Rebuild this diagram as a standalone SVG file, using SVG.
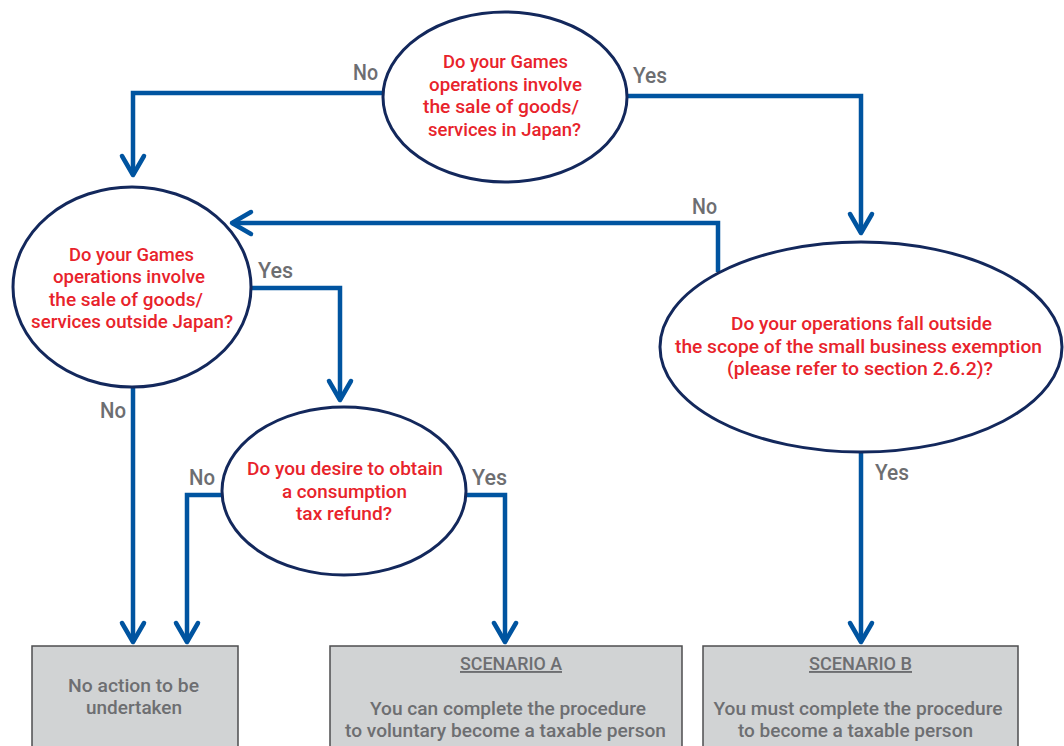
<svg xmlns="http://www.w3.org/2000/svg" width="1064" height="746" viewBox="0 0 1064 746">
<defs>
<marker id="arr" markerUnits="userSpaceOnUse" markerWidth="40" markerHeight="40" viewBox="-30 -20 40 40" refX="0" refY="0" orient="auto">
<path d="M-19,-11 L0,0 L-19,11" fill="none" stroke="#0054a0" stroke-width="4.5" stroke-linecap="round" stroke-linejoin="round"/>
</marker>
<style>
.q{fill:#fff;stroke:#13285c;stroke-width:3}
.qt{font-family:Roboto,"Liberation Sans",sans-serif;font-size:19px;font-weight:500;fill:#e8232b;text-anchor:middle}
.lb{font-family:Roboto,"Liberation Sans",sans-serif;font-size:22px;font-weight:500;fill:#6d6e71}
.bx{fill:#d1d3d4;stroke:#4d4d4f;stroke-width:1.5}
.bt{font-family:Roboto,"Liberation Sans",sans-serif;font-size:19px;font-weight:500;fill:#6d6e71;text-anchor:middle}
.c{fill:none;stroke:#0054a0;stroke-width:4.5;marker-end:url(#arr)}
</style>
</defs>
<g id="connectors">
<path class="c" d="M383,93 H133 V175"/>
<path class="c" d="M627,96 H861 V233"/>
<path class="c" d="M718,272 V223 H232"/>
<path class="c" d="M251,288 H340 V400"/>
<path class="c" d="M133,387 V642"/>
<path class="c" d="M222,495 H187 V642"/>
<path class="c" d="M466,495 H505 V642"/>
<path class="c" d="M861,452 V642"/>
<text class="lb" x="353" y="80" textLength="25" lengthAdjust="spacingAndGlyphs">No</text>
<text class="lb" x="633" y="83" textLength="34" lengthAdjust="spacingAndGlyphs">Yes</text>
<text class="lb" x="692" y="214" textLength="25" lengthAdjust="spacingAndGlyphs">No</text>
<text class="lb" x="258" y="278" textLength="35" lengthAdjust="spacingAndGlyphs">Yes</text>
<text class="lb" x="100" y="418" textLength="26" lengthAdjust="spacingAndGlyphs">No</text>
<text class="lb" x="189" y="485" textLength="26" lengthAdjust="spacingAndGlyphs">No</text>
<text class="lb" x="472" y="485" textLength="35" lengthAdjust="spacingAndGlyphs">Yes</text>
<text class="lb" x="875" y="480" textLength="34" lengthAdjust="spacingAndGlyphs">Yes</text>
</g>
<g id="q1">
<ellipse class="q" cx="505" cy="97" rx="122" ry="85"/>
<text class="qt" x="505.5" y="68" textLength="125" lengthAdjust="spacingAndGlyphs">Do your Games</text>
<text class="qt" x="505.5" y="90.5" textLength="153" lengthAdjust="spacingAndGlyphs">operations involve</text>
<text class="qt" x="501" y="113" textLength="156" lengthAdjust="spacingAndGlyphs">the sale of goods/</text>
<text class="qt" x="504.5" y="135.5" textLength="153" lengthAdjust="spacingAndGlyphs">services in Japan?</text>
</g>
<g id="q2">
<ellipse class="q" cx="132" cy="287" rx="119" ry="100"/>
<text class="qt" x="131.5" y="261" textLength="125" lengthAdjust="spacingAndGlyphs">Do your Games</text>
<text class="qt" x="129" y="283" textLength="152" lengthAdjust="spacingAndGlyphs">operations involve</text>
<text class="qt" x="126" y="305.5" textLength="154" lengthAdjust="spacingAndGlyphs">the sale of goods/</text>
<text class="qt" x="132" y="328" textLength="202" lengthAdjust="spacingAndGlyphs">services outside Japan?</text>
</g>
<g id="q3">
<ellipse class="q" cx="861" cy="347" rx="201" ry="105"/>
<text class="qt" x="861.5" y="330" textLength="261" lengthAdjust="spacingAndGlyphs">Do your operations fall outside</text>
<text class="qt" x="858.5" y="352.5" textLength="367" lengthAdjust="spacingAndGlyphs">the scope of the small business exemption</text>
<text class="qt" x="860" y="375" textLength="266" lengthAdjust="spacingAndGlyphs">(please refer to section 2.6.2)?</text>
</g>
<g id="q4">
<ellipse class="q" cx="344" cy="491" rx="122" ry="84"/>
<text class="qt" x="345" y="475" textLength="196" lengthAdjust="spacingAndGlyphs">Do you desire to obtain</text>
<text class="qt" x="344.5" y="497.5" textLength="125" lengthAdjust="spacingAndGlyphs">a consumption</text>
<text class="qt" x="344" y="520" textLength="96" lengthAdjust="spacingAndGlyphs">tax refund?</text>
</g>
<g id="r1">
<rect class="bx" x="32" y="646" width="206" height="120"/>
<text class="bt" x="133.5" y="692" textLength="131" lengthAdjust="spacingAndGlyphs">No action to be</text>
<text class="bt" x="134" y="714" textLength="96" lengthAdjust="spacingAndGlyphs">undertaken</text>
</g>
<g id="r2">
<rect class="bx" x="330" y="646" width="352" height="120"/>
<text class="bt" x="511" y="670" textLength="102" lengthAdjust="spacingAndGlyphs" text-decoration="underline">SCENARIO A</text>
<text class="bt" x="508" y="715" textLength="276" lengthAdjust="spacingAndGlyphs">You can complete the procedure</text>
<text class="bt" x="505.5" y="737" textLength="321" lengthAdjust="spacingAndGlyphs">to voluntary become a taxable person</text>
</g>
<g id="r3">
<rect class="bx" x="703" y="646" width="315" height="120"/>
<text class="bt" x="860.5" y="670" textLength="103" lengthAdjust="spacingAndGlyphs" text-decoration="underline">SCENARIO B</text>
<text class="bt" x="858" y="715" textLength="289" lengthAdjust="spacingAndGlyphs">You must complete the procedure</text>
<text class="bt" x="855.5" y="737" textLength="235" lengthAdjust="spacingAndGlyphs">to become a taxable person</text>
</g>
</svg>
